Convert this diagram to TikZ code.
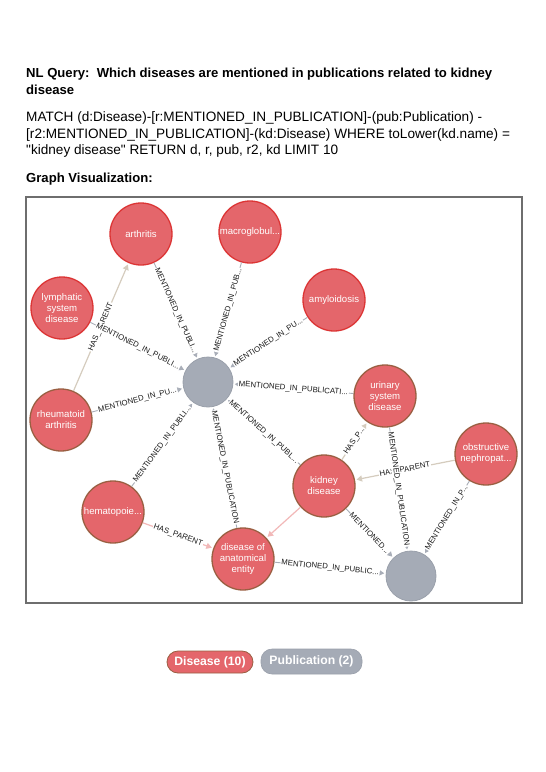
\documentclass[tikz,border=0pt]{standalone}
\usepackage{fontspec}
\setmainfont{Liberation Sans}[Ligatures=TeXOff]
\usetikzlibrary{arrows.meta}
\definecolor{disfill}{HTML}{E4666B}
\definecolor{disred}{HTML}{DC3535}
\definecolor{disbrown}{HTML}{9A5F42}
\definecolor{pubfill}{HTML}{A5ABB6}
\definecolor{publine}{HTML}{9AA0AB}
\definecolor{edgegray}{HTML}{A9AEB8}
\definecolor{hpbeige}{HTML}{D5CCBE}
\definecolor{hppink}{HTML}{F2B8B8}
\definecolor{labeltxt}{HTML}{1A1A1A}
\definecolor{frame}{HTML}{6E6E6E}
\begin{document}
\begin{tikzpicture}[x=1pt,y=-1pt,
  dis/.style={circle, minimum size=62pt, inner sep=0pt, fill=disfill, draw=disred, line width=1.3pt, text=white, font=\fontsize{9.6}{11}\selectfont, align=center},
  disb/.style={dis, draw=disbrown},
  pubnode/.style={circle, minimum size=50pt, inner sep=0pt, fill=pubfill, draw=publine, line width=0.8pt},
  mip/.style={draw=edgegray, line width=0.9pt, -{Triangle[width=5.5pt,length=5pt]}, shorten >=1.5pt},
  hp/.style={draw=hpbeige, line width=1.2pt, -{Triangle[width=6pt,length=5.5pt]}, shorten >=1.5pt},
  hpp/.style={hp, draw=hppink},
  lbl/.style={midway, sloped, fill=white, inner sep=0.8pt, text=labeltxt, font=\fontsize{7.8}{8.5}\selectfont},
  qline/.style={anchor=base west, inner sep=0pt, font=\fontsize{13.6}{16}\selectfont},
  qbold/.style={anchor=base west, inner sep=0pt, font=\bfseries\fontsize{13.1}{16}\selectfont},
  pill/.style={rounded corners=11pt, inner sep=0pt, text=white, font=\bfseries\fontsize{12.2}{13}\selectfont}
]
\useasboundingbox (0,0) rectangle (546,772);
\fill[white] (0,0) rectangle (546,772);

% header text
\node[qbold] (t1) at (26,77) {NL Query:\ \ Which diseases are mentioned in publications related to kidney};
\node[qbold] (t2) at (26,94) {disease};
\node[qline] (t3) at (26,121) {MATCH (d:Disease)-[r:MENTIONED\_IN\_PUBLICATION]-(pub:Publication) -};
\node[qline] (t4) at (26,138) {[r2:MENTIONED\_IN\_PUBLICATION]-(kd:Disease) WHERE toLower(kd.name) =};
\node[qline] (t5) at (26,154) {"kidney disease" RETURN d, r, pub, r2, kd LIMIT 10};
\node[qbold] (t6) at (26,182) {Graph Visualization:};

% frame
\draw[frame, line width=1.2pt] (26,197) rectangle (522,603);

% nodes
\node[dis] (arth) at (141,234) {arthritis};
\node[dis] (macro) at (250,232) {macroglobul...};
\node[dis] (lymph) at (62,308) {lymphatic\\system\\disease};
\node[dis] (amyl) at (334,300) {amyloidosis};
\node[pubnode] (pub1) at (208,382) {};
\node[disb] (urin) at (385,396) {urinary\\system\\disease};
\node[disb] (rheum) at (61,420) {rheumatoid\\arthritis};
\node[disb] (kid) at (324,486) {kidney\\disease};
\node[disb] (obst) at (486,454) {obstructive\\nephropat...};
\node[disb] (hema) at (113,512) {hematopoie...};
\node[disb] (dae) at (243,559) {disease of\\anatomical\\entity};
\node[pubnode] (pub2) at (411,576) {};

% HAS_PARENT edges
\draw[hp] (rheum) -- node[lbl]{HAS\_PARENT} (arth);
\draw[hpp] (hema) -- node[lbl]{HAS\_PARENT} (dae);
\draw[hp] (kid) -- node[lbl]{HAS\_P...} (urin);
\draw[hp] (obst) -- node[lbl]{HAS\_PARENT} (kid);
\draw[hpp] (kid) -- (dae);

% MENTIONED_IN_PUBLICATION edges to pub1
\draw[mip] (arth) -- node[lbl]{MENTIONED\_IN\_PUBLI...} (pub1);
\draw[mip] (macro) -- node[lbl]{MENTIONED\_IN\_PUB...} (pub1);
\draw[mip] (amyl) -- node[lbl]{MENTIONED\_IN\_PU...} (pub1);
\draw[mip] (urin) -- node[lbl]{MENTIONED\_IN\_PUBLICATI...} (pub1);
\draw[mip] (lymph) -- node[lbl]{MENTIONED\_IN\_PUBLI...} (pub1);
\draw[mip] (rheum) -- node[lbl]{MENTIONED\_IN\_PU...} (pub1);
\draw[mip] (hema) -- node[lbl]{MENTIONED\_IN\_PUBLI...} (pub1);
\draw[mip] (dae) -- node[lbl]{MENTIONED\_IN\_PUBLICATION} (pub1);
\draw[mip] (kid) -- node[lbl]{MENTIONED\_IN\_PUBL...} (pub1);

% edges to pub2
\draw[mip] (kid) -- node[lbl]{MENTIONED...} (pub2);
\draw[mip] (urin) -- node[lbl]{MENTIONED\_IN\_PUBLICATION} (pub2);
\draw[mip] (obst) -- node[lbl]{MENTIONED\_IN\_P...} (pub2);
\draw[mip] (dae) -- node[lbl]{MENTIONED\_IN\_PUBLIC...} (pub2);

% legend
\node[pill, fill=disfill, draw=disbrown, line width=0.8pt, minimum width=86pt, minimum height=22pt] (legd) at (210,662) {Disease (10)};
\node[pill, fill=pubfill, draw=publine, line width=0.6pt, minimum width=101pt, minimum height=25pt] (legp) at (311.5,661.5) {Publication (2)};
\end{tikzpicture}
\end{document}
